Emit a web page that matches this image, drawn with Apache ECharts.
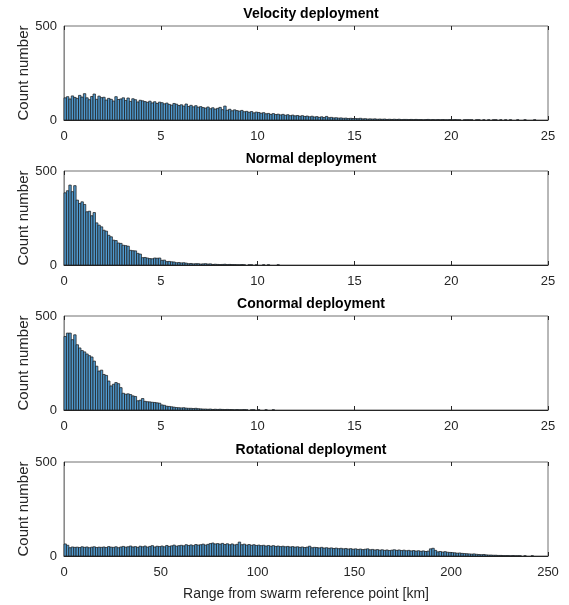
<!DOCTYPE html>
<html lang="en">
  <head>
    <meta charset="UTF-8" />
    <title>Range histograms</title>
    <script src="https://cdn.jsdelivr.net/npm/echarts@6/dist/echarts.min.js"></script>
    <style>
      html, body { margin: 0; padding: 0; background: #fff; }
      #chart { width: 569px; height: 605px; }
    </style>
  </head>
  <body>
    <div id="chart"></div>
    <script>
      // panel titles
      const titles = [
        "Velocity deployment",
        "Normal deployment",
        "Conormal deployment",
        "Rotational deployment"
      ];

      // x ranges [max, tick interval] and bin widths (km)
      const xMax = [25, 25, 25, 250];
      const xStep = [5, 5, 5, 50];
      const binWidth = [0.125, 0.125, 0.125, 1.25];

      // histogram counts per bin
      const velocityCounts = [
        118, 124, 112, 128, 120, 115, 131, 122,
        140, 118, 108, 125, 138, 110, 127, 119,
        121, 106, 115, 110, 101, 124, 109, 112,
        118, 104, 117, 99, 113, 108, 96, 105,
        102, 98, 94, 100, 91, 97, 88, 95,
        92, 86, 90, 83, 79, 88, 84, 77,
        81, 74, 85, 72, 78, 70, 76, 68,
        71, 66, 63, 69, 60, 65, 58, 62,
        67, 55, 74, 52, 57, 49, 54, 50,
        47, 51, 44, 46, 41, 45, 38, 42,
        40, 36, 39, 33, 35, 30, 34, 29,
        31, 27, 30, 25, 28, 23, 26, 22,
        24, 20, 23, 19, 21, 17, 20, 16,
        18, 14, 17, 13, 19, 12, 14, 11,
        12, 10, 11, 9, 10, 8, 9, 8,
        8, 7, 9, 6, 7, 5, 6, 5,
        6, 4, 5, 4, 5, 3, 4, 3,
        4, 3, 4, 2, 3, 3, 2, 3,
        2, 3, 2, 2, 1, 2, 3, 1,
        2, 1, 2, 1, 2, 1, 1, 2,
        1, 2, 1, 1, 0, 1, 1, 1,
        1, 0, 1, 1, 0, 1, 0, 1,
        0, 1, 1, 0, 1, 0, 1, 0,
        1, 0, 0, 1, 0, 0, 1, 0,
        0, 0, 1, 0, 0, 0, 0, 0
      ];
      const normalCounts = [
        384, 395, 425, 390, 422, 345, 327, 336,
        322, 283, 286, 262, 279, 224, 212, 203,
        185, 180, 158, 150, 132, 130, 117, 115,
        105, 103, 100, 78, 76, 75, 62, 58,
        39, 40, 37, 34, 33, 37, 36, 37,
        25, 26, 18, 19, 17, 16, 12, 13,
        11, 12, 10, 7, 8, 6, 7, 7,
        5, 6, 7, 5, 6, 3, 4, 3,
        2, 3, 4, 2, 3, 2, 2, 1,
        1, 2, 1, 0, 1, 1, 0, 1,
        0, 0, 1, 0, 1, 0, 0, 0, 1
      ];
      const conormalCounts = [
        391, 409, 409, 374, 400, 347, 330, 316,
        309, 298, 289, 282, 260, 233, 207, 212,
        189, 184, 154, 128, 137, 146, 140, 119,
        89, 84, 86, 82, 75, 72, 49, 52,
        61, 46, 44, 43, 41, 40, 38, 36,
        27, 25, 20, 19, 17, 15, 13, 12,
        11, 12, 10, 9, 9, 8, 9, 7,
        6, 5, 5, 4, 5, 3, 4, 3,
        4, 3, 2, 3, 2, 2, 1, 2,
        1, 1, 2, 1, 0, 1, 1, 0,
        1, 0, 0, 1, 0, 0, 1, 0
      ];
      const rotationalCounts = [
        64, 57, 44, 48, 46, 47, 45, 49,
        46, 48, 44, 47, 49, 45, 47, 46,
        48, 45, 50, 47, 46, 49, 44, 48,
        51, 47, 49, 53, 48, 50, 46, 52,
        49, 53, 47, 51, 55, 48, 52, 50,
        53, 49, 56, 51, 54, 58, 52, 55,
        57, 54, 60, 56, 59, 55, 61, 58,
        60, 63, 58, 62, 66, 69, 64, 66,
        63, 67, 61, 65, 60, 64, 59, 62,
        74, 60, 63, 58, 61, 57, 60, 56,
        58, 55, 57, 53, 56, 52, 55, 51,
        53, 50, 52, 49, 51, 48, 50, 47,
        49, 46, 48, 45, 47, 52, 44, 46,
        45, 43, 46, 42, 44, 41, 43, 40,
        42, 39, 41, 38, 40, 37, 39, 36,
        38, 35, 37, 34, 36, 38, 33, 35,
        32, 34, 31, 33, 30, 32, 29, 31,
        33, 30, 32, 29, 31, 28, 30, 27,
        29, 26, 28, 25, 27, 24, 26, 38,
        41, 30, 22, 24, 21, 23, 20, 19,
        18, 17, 15, 16, 14, 13, 12, 11,
        10, 11, 9, 8, 7, 8, 6, 5,
        5, 4, 4, 3, 3, 2, 2, 2,
        1, 2, 1, 1, 1, 0, 1, 0,
        0, 1, 0, 0, 0, 0, 0, 0
      ];
      const allCounts = [velocityCounts, normalCounts, conormalCounts, rotationalCounts];

      const yTicks = [0, 500];
      const xLabelName = "Range from swarm reference point [km]";
      const yLabelName = "Count number";

      const font = "'Liberation Sans', Arial, Helvetica, sans-serif";
      const ink = "#262626";
      const gridTops = [26, 171, 316, 462];

      const chart = echarts.init(document.getElementById("chart"), null, { renderer: "canvas" });

      const grid = [], xAxis = [], yAxis = [], series = [], title = [];

      gridTops.forEach((top, i) => {
        grid.push({
          left: 64, right: 21, top: top, height: 94,
          show: true, borderColor: "#707070", borderWidth: 1, backgroundColor: "#fff"
        });
        title.push({
          text: titles[i], left: 306, top: top - 24, textAlign: "center",
          textStyle: { fontFamily: font, fontSize: 14, fontWeight: "bold", color: "#000" }
        });
        const isLast = i === gridTops.length - 1;
        // bottom axis with labels
        xAxis.push({
          gridIndex: i, type: "value", position: "bottom",
          min: 0, max: xMax[i], interval: xStep[i],
          axisLine: { show: true, lineStyle: { color: ink, width: 1 } },
          axisTick: { show: true, inside: true, length: 4, lineStyle: { color: ink } },
          splitLine: { show: false },
          axisLabel: { margin: 10, color: ink, fontFamily: font, fontSize: 13 },
          name: isLast ? xLabelName : "",
          nameLocation: "middle", nameGap: 31, nameMoveOverlap: false,
          nameTextStyle: { fontFamily: font, fontSize: 14, color: ink }
        });
        // mirrored top ticks (box style)
        xAxis.push({
          gridIndex: i, type: "value", position: "top",
          min: 0, max: xMax[i], interval: xStep[i],
          axisLine: { show: false },
          axisTick: { show: true, inside: true, length: 4, lineStyle: { color: ink } },
          splitLine: { show: false },
          axisLabel: { show: false }
        });
        yAxis.push({
          gridIndex: i, type: "value", min: yTicks[0], max: yTicks[1], interval: yTicks[1] - yTicks[0],
          axisLine: { show: true, lineStyle: { color: "#8a8a8a" } },
          axisTick: { show: false },
          splitLine: { show: false },
          axisLabel: { margin: 7, color: ink, fontFamily: font, fontSize: 13 },
          name: yLabelName, nameLocation: "middle", nameGap: 33, nameRotate: 90,
          nameMoveOverlap: false,
          nameTextStyle: { fontFamily: font, fontSize: 15, color: ink }
        });

        const w = binWidth[i];
        series.push({
          type: "custom",
          xAxisIndex: i * 2, yAxisIndex: i,
          data: allCounts[i].map((c, k) => [k * w, (k + 1) * w, c]),
          encode: { x: [0, 1], y: 2 },
          renderItem: function (params, api) {
            const c = api.value(2);
            if (!c) return null;
            const p0 = api.coord([api.value(0), c]);
            const p1 = api.coord([api.value(1), 0]);
            return {
              type: "rect",
              shape: { x: p0[0], y: p0[1], width: p1[0] - p0[0], height: p1[1] - p0[1] },
              style: { fill: "#4f9ad0", stroke: "#1e1e1e", lineWidth: 0.75 }
            };
          },
          silent: true, animation: false
        });
      });

      chart.setOption({
        backgroundColor: "#fff",
        animation: false,
        title, grid, xAxis, yAxis, series
      });
    </script>
  </body>
</html>
